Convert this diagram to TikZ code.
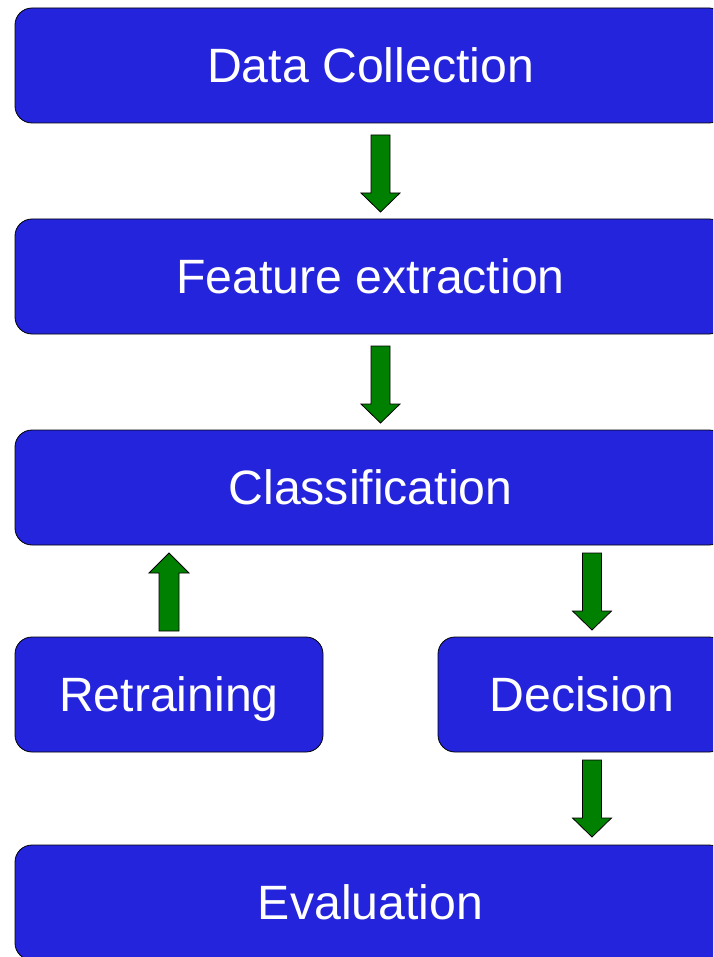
\documentclass[tikz,border=0pt]{standalone}
\usepackage{fontspec}
\setmainfont{Liberation Sans}
\usetikzlibrary{positioning}
\definecolor{boxblue}{RGB}{36,36,220}
\definecolor{arrowgreen}{RGB}{0,128,0}

\begin{document}
\begin{tikzpicture}[x=1pt,y=-1pt,
    stage/.style={draw=black, line width=0.8pt, fill=boxblue, rounded corners=17pt,
        minimum height=115pt, text=white, text depth=0pt,
        font=\fontsize{48.2}{58}\selectfont},
    blockarrow/.style={draw=black, line width=0.8pt, fill=arrowgreen}]
        \useasboundingbox (0,0) rectangle (713,957);
        \clip (0,0) rectangle (713,957);

        \node[stage, minimum width=711pt] (collect) at (370.5,65.5) {Data Collection};
        \node[stage, minimum width=711pt] (feature) at (370.5,276.5) {Feature extraction};
        \node[stage, minimum width=711pt] (classify) at (370.5,487.5) {Classification};
        \node[stage, minimum width=308pt] (retrain) at (169,694.5) {Retraining};
        \node[stage, minimum width=288pt] (decide) at (582,694.5) {Decision};
        \node[stage, minimum width=711pt] (evaluate) at (370.5,902.5) {Evaluation};

        % downward block arrows
        \foreach \x/\y in {380.5/135, 380.5/346, 592/553, 592/760}
            \draw[blockarrow] (\x-9.5,\y) -- ++(19,0) -- ++(0,58) -- ++(10,0) -- ++(-19.5,19)
                -- ++(-19.5,-19) -- ++(10,0) -- cycle;

        % upward block arrow
        \draw[blockarrow] (159,631) -- ++(20,0) -- ++(0,-58) -- ++(10,0) -- ++(-20,-20)
            -- ++(-20,20) -- ++(10,0) -- cycle;
    \end{tikzpicture}
\end{document}
